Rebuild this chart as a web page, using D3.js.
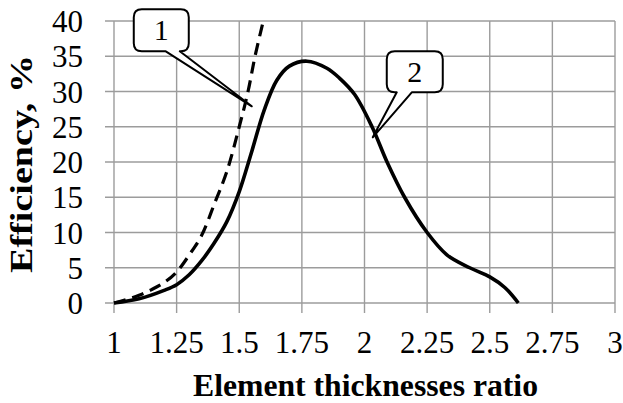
<!DOCTYPE html>
<html>
<head>
<meta charset="utf-8">
<script src="https://cdn.jsdelivr.net/npm/d3@7"></script>
<style>
  html, body { margin: 0; padding: 0; background: #fff; }
  svg { display: block; }
</style>
</head>
<body>
<svg id="chart" width="623" height="403"></svg>
<script>
// Curve 1 (dashed): efficiency vs. element thicknesses ratio
const ratio1 = [1, 1.05, 1.1, 1.15, 1.2, 1.25, 1.3, 1.35, 1.4, 1.45, 1.5, 1.535, 1.563, 1.596];
const eff1   = [0, 0.5, 1.1, 1.9, 2.9, 4.4, 6.8, 9.6, 14, 18.6, 25, 30, 35, 40];

// Curve 2 (solid)
const ratio2 = [1, 1.1, 1.2, 1.25, 1.3, 1.35, 1.4, 1.45, 1.5, 1.55, 1.6, 1.65, 1.7, 1.77, 1.85, 1.9, 1.96, 2.03, 2.09, 2.16, 2.25, 2.33, 2.42, 2.5, 2.56, 2.614];
const eff2   = [0, 0.6, 1.8, 2.6, 4.0, 6.0, 8.5, 11.5, 15.8, 21.5, 27.4, 31.6, 33.6, 34.3, 33.3, 31.9, 29.6, 25, 20, 15, 10, 6.8, 5, 3.7, 2.2, 0];

// Axis ticks
const xTicks = [1, 1.25, 1.5, 1.75, 2, 2.25, 2.5, 2.75, 3];
const xTickLabels = ["1", "1.25", "1.5", "1.75", "2", "2.25", "2.5", "2.75", "3"];
const yTicks = [0, 5, 10, 15, 20, 25, 30, 35, 40];

// Callout labels: tip anchored on the curve in data units
const calloutText = ["1", "2"];
const calloutTipX = [1.55, 2.033];
const calloutTipY = [27.9, 23.5];

const serif = "'Liberation Serif', 'Times New Roman', 'DejaVu Serif', serif";

const svg = d3.select("#chart");
const x = d3.scaleLinear().domain([1, 3]).range([114, 615]);
const y = d3.scaleLinear().domain([0, 40]).range([303, 21]);

const gridColor = "#9c9c9c";

// Horizontal grid with outward ticks on the left
svg.append("g").selectAll("line").data(yTicks).join("line")
  .attr("x1", 105).attr("x2", x(3))
  .attr("y1", d => y(d)).attr("y2", d => y(d))
  .attr("stroke", gridColor).attr("stroke-width", 1.4);

// Vertical grid with outward ticks at the bottom
svg.append("g").selectAll("line").data(xTicks).join("line")
  .attr("x1", d => x(d)).attr("x2", d => x(d))
  .attr("y1", y(40)).attr("y2", 313)
  .attr("stroke", gridColor).attr("stroke-width", 1.4);

// Y tick labels
svg.append("g").selectAll("text").data(yTicks).join("text")
  .attr("x", 83).attr("y", d => y(d) + 11)
  .attr("text-anchor", "end")
  .attr("font-family", serif).attr("font-size", 31)
  .text(d => d);

// X tick labels
svg.append("g").selectAll("text").data(xTicks).join("text")
  .attr("x", d => x(d)).attr("y", 353)
  .attr("text-anchor", "middle")
  .attr("font-family", serif).attr("font-size", 31)
  .text((d, i) => xTickLabels[i]);

// Axis titles
svg.append("text")
  .attr("x", 365.5).attr("y", 396)
  .attr("text-anchor", "middle")
  .attr("font-family", serif).attr("font-size", 31).attr("font-weight", "bold")
  .attr("textLength", 345).attr("lengthAdjust", "spacingAndGlyphs")
  .text("Element thicknesses ratio");

svg.append("text")
  .attr("transform", "translate(32,164) rotate(-90)")
  .attr("text-anchor", "middle")
  .attr("font-family", serif).attr("font-size", 31).attr("font-weight", "bold")
  .attr("textLength", 218).attr("lengthAdjust", "spacingAndGlyphs")
  .text("Efficiency, %");

// Curves
const line = d3.line()
  .x(d => x(d[0])).y(d => y(d[1]))
  .curve(d3.curveCatmullRom.alpha(0.5));

svg.append("path")
  .datum(ratio2.map((r, i) => [r, eff2[i]]))
  .attr("d", line)
  .attr("fill", "none").attr("stroke", "#000")
  .attr("stroke-width", 3.6).attr("stroke-linecap", "butt");

svg.append("path")
  .datum(ratio1.map((r, i) => [r, eff1[i]]))
  .attr("d", line)
  .attr("fill", "none").attr("stroke", "#000")
  .attr("stroke-width", 3.2).attr("stroke-dasharray", "12,7");

// Callout boxes (rounded rectangle with a pointer wedge), offsets from the tip
const calloutBox = [
  { x0: -118, x1: -63, y0: -97, y1: -55, a: -86, b: -72 },
  { x0: 14, x1: 70, y0: -86, y1: -45, a: 24, b: 39 }
];

function calloutPath(tx, ty, bx) {
  const r = 8;
  const x0 = tx + bx.x0, x1 = tx + bx.x1, y0 = ty + bx.y0, y1 = ty + bx.y1;
  const wa = tx + bx.a, wb = tx + bx.b;
  return `M${x0 + r},${y0} H${x1 - r} Q${x1},${y0} ${x1},${y0 + r} V${y1 - r}` +
         ` Q${x1},${y1} ${x1 - r},${y1} H${wb} L${tx},${ty} L${wa},${y1}` +
         ` H${x0 + r} Q${x0},${y1} ${x0},${y1 - r} V${y0 + r} Q${x0},${y0} ${x0 + r},${y0} Z`;
}

calloutText.forEach((t, i) => {
  const tx = x(calloutTipX[i]), ty = y(calloutTipY[i]);
  const bx = calloutBox[i];
  svg.append("path")
    .attr("d", calloutPath(tx, ty, bx))
    .attr("fill", "#fff").attr("stroke", "#000").attr("stroke-width", 2)
    .attr("stroke-linejoin", "round");
  svg.append("text")
    .attr("x", tx + (bx.x0 + bx.x1) / 2)
    .attr("y", ty + (bx.y0 + bx.y1) / 2 + 10)
    .attr("text-anchor", "middle")
    .attr("font-family", serif).attr("font-size", 30)
    .text(t);
});
</script>
</body>
</html>
